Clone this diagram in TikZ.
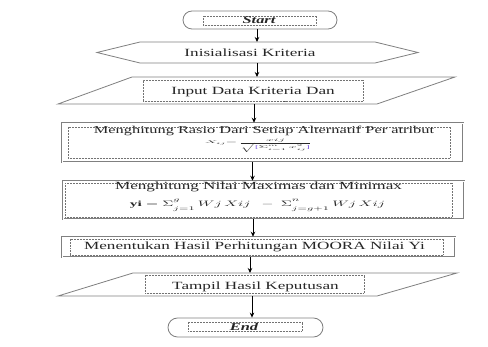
\documentclass[tikz,border=0pt]{standalone}
\usepackage{fontspec}
\usepackage{amsmath}
\usepackage{graphicx}
\setmainfont{Liberation Serif}
\newfontfamily\lblfont[FakeStretch=1.56]{Liberation Serif}
\usetikzlibrary{shapes.misc,arrows.meta}
\newcommand{\supsub}[2]{^{\raisebox{0.7ex}{$\scriptstyle #1$}}_{\raisebox{-0.6ex}{$\scriptstyle #2$}}}
\begin{document}
\begin{tikzpicture}[x=1pt,y=-1pt,
  shapeline/.style={draw=black!50, line width=0.8pt},
  dbl/.style={draw=black!50, double=white, double distance=0.9pt, line width=0.5pt, inner sep=0pt},
  dots/.style={draw=black!55, densely dotted, line width=0.5pt, inner sep=0pt},
  ghost/.style={inner sep=0pt, outer sep=0pt},
  lbl/.style={text=black!85, font=\lblfont\fontsize{11}{13}\selectfont, inner sep=0pt},
  lblsm/.style={text=black!85, font=\lblfont\fontsize{10.5}{12}\selectfont, inner sep=0pt},
  lblbi/.style={text=black!85, font=\lblfont\fontsize{10.5}{12}\selectfont\bfseries\itshape, inner sep=0pt},
  eq/.style={text=black!85, inner sep=0pt},
  arr/.style={-{Stealth[length=5pt,width=4.5pt]}, line width=1pt, draw=black}]
\useasboundingbox (0,0) rectangle (488,347);
\fill[white] (0,0) rectangle (488,347);

% Start
\node[rounded rectangle, shapeline, minimum width=154pt, minimum height=18pt, inner sep=0pt] (start) at (260,20) {};
\node[dots, minimum width=113pt, minimum height=9pt] (startbox) at (259.5,20.5) {};
\node[lblbi] (starttxt) at (259,20.5) {Start};

% Inisialisasi (preparation)
\node[ghost, minimum width=235pt, minimum height=21pt] (prep) at (257,52.5) {};
\draw[shapeline] (140,42) -- (375,42) -- (418,52.5) -- (375,63) -- (140,63) -- (97,52.5) -- cycle;
\node[lbl] (preptxt) at (250,52.5) {Inisialisasi Kriteria};

% Input (data)
\node[ghost, minimum width=240pt, minimum height=27pt] (inp) at (254,90.5) {};
\draw[shapeline] (132,77) -- (455,77) -- (377,104) -- (58,104) -- cycle;
\node[dots, minimum width=220pt, minimum height=21pt] (inpbox) at (253,90.5) {};
\node[lbl] (inptxt) at (253,92) {Input Data Kriteria Dan};
\begin{scope}
\clip (inpbox.north west) rectangle (inpbox.south east);
\node[lbl] (inptxt2) at (253,106) {Alternatif};
\end{scope}

% Rasio
\node[dbl, minimum width=401pt, minimum height=39pt] (ratio) at (262.5,142.5) {};
\node[dots, minimum width=382pt, minimum height=31pt] (ratiobox) at (259,142.5) {};
\node[lblsm] (ratiotxt) at (264,130.5) {Menghitung Rasio Dari Setiap Alternatif Per atribut};
\node[eq] (ratioeq) at (258.5,145.5) {\resizebox*{107pt}{14pt}{$X_{ij}{=}\,\dfrac{xij}{\sqrt{\textcolor{blue!60!violet}{[}\Sigma\supsub{m}{i=1}\, x\supsub{2}{ij}\textcolor{blue!60!violet}{]}}}$}};

% Maximas Minimax
\node[dbl, minimum width=401pt, minimum height=38pt] (maxmin) at (263.5,200) {};
\node[dots, minimum width=387pt, minimum height=34pt] (maxminbox) at (258.5,200) {};
\node[lbl] (maxmintxt) at (258.5,187) {Menghitung Nilai Maximas dan Minimax};
\node[eq] (maxmineq) at (257.5,205.5) {\resizebox*{255pt}{13pt}{$\mathbf{yi} = \Sigma\supsub{g}{j=1}\, Wj\,Xij\ \ -\ \Sigma\supsub{n}{j=g+1}\, Wj\,Xij$}};

% MOORA
\node[dbl, minimum width=393pt, minimum height=20pt] (moora) at (258.5,247) {};
\node[dots, minimum width=373pt, minimum height=16pt] (moorabox) at (256.5,247) {};
\node[lbl] (mooratxt) at (254.5,246.5) {Menentukan Hasil Perhitungan MOORA Nilai Yi};

% Tampil (output)
\node[ghost, minimum width=240pt, minimum height=23pt] (out) at (252,284.5) {};
\draw[shapeline] (133,273) -- (457,273) -- (377,296) -- (58,296) -- cycle;
\node[dots, minimum width=219pt, minimum height=18pt] (outbox) at (254.5,284) {};
\node[lbl] (outtxt) at (255.5,286.5) {Tampil Hasil Keputusan};

% End
\node[rounded rectangle, shapeline, minimum width=155pt, minimum height=19pt, inner sep=0pt] (end) at (245.5,327.5) {};
\node[dots, minimum width=114pt, minimum height=9pt] (endbox) at (245,326.5) {};
\node[lblbi] (endtxt) at (244,326.5) {End};

% connectors
\draw[arr] (prep.north |- start.south) -- (prep.north);
\draw[arr] (prep.south) -- (prep.south |- inp.north);
\draw[arr] (inp.south) -- (inp.south |- ratio.north);
\draw[arr] ([xshift=-10pt]ratio.south) -- ([xshift=-10pt]ratio.south |- maxmin.north);
\draw[arr] ([xshift=-10.5pt]maxmin.south) -- ([xshift=-10.5pt]maxmin.south |- moora.north);
\draw[arr] ([xshift=-8.5pt]moora.south) -- ([xshift=-8.5pt]moora.south |- out.north);
\draw[arr] (out.south) -- (out.south |- end.north);
\end{tikzpicture}
\end{document}
